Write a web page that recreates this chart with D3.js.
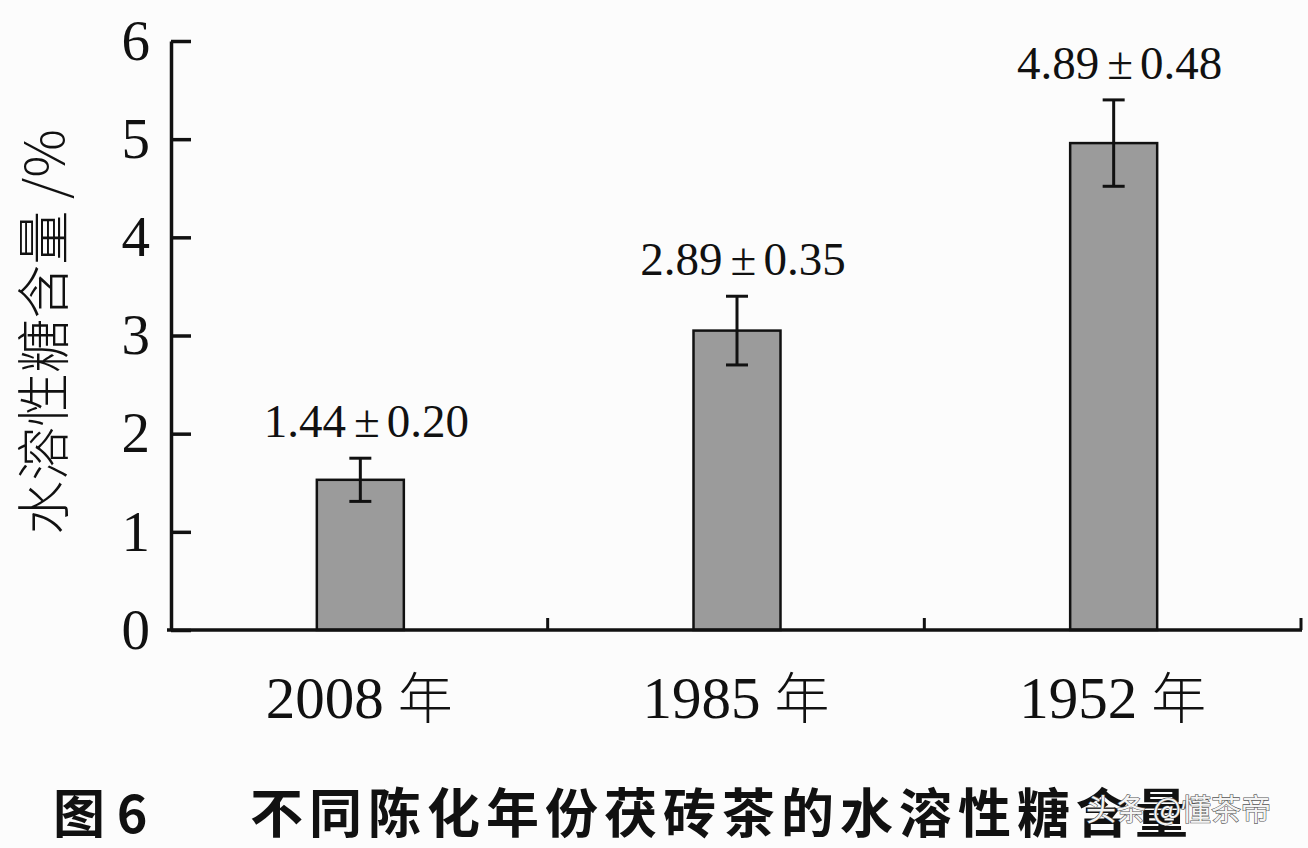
<!DOCTYPE html>
<html><head><meta charset="utf-8">
<script src="https://cdn.jsdelivr.net/npm/d3@7"></script>
<style>
html,body{margin:0;padding:0;background:#fcfcfc;}
svg{display:block;}
</style></head>
<body>
<svg id="chart" width="1308" height="848"></svg>
<script>
const categories = ["2008", "1985", "1952"];
const barValues = [1.53, 3.05, 4.96];
const errValues = [0.22, 0.35, 0.44];
const labelMeans = ["1.44", "2.89", "4.89"];
const labelSds = ["0.20", "0.35", "0.48"];
const yTicks = [0, 1, 2, 3, 4, 5, 6];
const yTitle = "水溶性糖含量 /%";
const caption1 = "图 6";
const caption2 = "不同陈化年份茯砖茶的水溶性糖含量";
const watermark = "头条 @懂茶帝";

const svg = d3.select("#chart");
const serif = "'Liberation Serif','Times New Roman',serif";
const cjk = "'Noto Sans CJK SC','Noto Sans CJK JP',sans-serif";

const x = d3.scaleBand().domain(categories).range([171, 1301]).paddingInner(0).paddingOuter(0);
const y = d3.scaleLinear().domain([0, 6]).range([630, 41]);
const barW = 87;

svg.append("rect").attr("width",1308).attr("height",848).attr("fill","#fcfcfc");

// bars
svg.selectAll("rect.bar").data(categories).enter().append("rect")
  .attr("class","bar")
  .attr("x", d => x(d) + x.bandwidth()/2 - barW/2 + 1)
  .attr("width", barW)
  .attr("y", (d,i) => y(barValues[i]))
  .attr("height", (d,i) => y(0) - y(barValues[i]))
  .attr("fill", "#9b9b9b")
  .attr("stroke", "#111")
  .attr("stroke-width", 2.5);

// error bars
const eg = svg.append("g").attr("stroke","#111").attr("stroke-width",3);
categories.forEach((c,i) => {
  const cx = x(c) + x.bandwidth()/2 + 1;
  const t = y(barValues[i] + errValues[i]), b = y(barValues[i] - errValues[i]);
  eg.append("line").attr("x1",cx).attr("x2",cx).attr("y1",t).attr("y2",b);
  eg.append("line").attr("x1",cx-11).attr("x2",cx+11).attr("y1",t).attr("y2",t);
  eg.append("line").attr("x1",cx-11).attr("x2",cx+11).attr("y1",b).attr("y2",b);
});

// value labels
categories.forEach((c,i) => {
  const cx = x(c) + x.bandwidth()/2 + 7;
  const t = svg.append("text")
    .attr("x", cx).attr("y", y(barValues[i] + errValues[i]) - 21)
    .attr("text-anchor","middle")
    .attr("font-family", serif).attr("font-size", 47).attr("fill","#111");
  t.append("tspan").text(labelMeans[i]);
  t.append("tspan").attr("dx", 8).text("±");
  t.append("tspan").attr("dx", 7).text(labelSds[i]);
});

// y axis
const yAxis = d3.axisLeft(y).tickValues(yTicks).tickFormat(d3.format("d"))
  .tickSizeInner(-20).tickSizeOuter(0).tickPadding(21);
const gy = svg.append("g").attr("transform","translate(171,0)").call(yAxis);
gy.select(".domain").attr("stroke","#111").attr("stroke-width",3.5);
gy.selectAll(".tick line").attr("stroke","#111").attr("stroke-width",3.5);
gy.selectAll(".tick text").attr("font-family", serif).attr("font-size", 57).attr("fill","#111");

// x axis
svg.append("line").attr("x1",167).attr("x2",1302).attr("y1",y(0)).attr("y2",y(0))
  .attr("stroke","#111").attr("stroke-width",3.5);
const bounds = categories.slice(1).map(c => x(c)).concat([x.range()[1]]);
svg.selectAll("line.xt").data(bounds).enter().append("line")
  .attr("class","xt")
  .attr("x1", d => d).attr("x2", d => d)
  .attr("y1", y(0)).attr("y2", y(0) - 12)
  .attr("stroke","#111").attr("stroke-width",3);

// x labels
categories.forEach(c => {
  const t = svg.append("text")
    .attr("x", x(c) + x.bandwidth()/2).attr("y", 718)
    .attr("text-anchor","middle").attr("fill","#111");
  t.append("tspan").attr("font-family", serif).attr("font-size", 59).text(c);
  t.append("tspan").attr("dx", 14).attr("font-family", cjk).attr("font-size", 55).attr("font-weight", 300).text("年");
});

// y title
svg.append("text")
  .attr("transform","translate(64,332) rotate(-90)")
  .attr("text-anchor","middle")
  .attr("font-family", cjk).attr("font-size", 54).attr("font-weight", 300).attr("fill","#111")
  .text(yTitle);

// caption
svg.append("text").attr("x", 53).attr("y", 833)
  .attr("font-family", cjk).attr("font-size", 52).attr("font-weight", 700).attr("fill","#111")
  .text(caption1);
svg.append("text").attr("x", 250).attr("y", 833)
  .attr("font-family", cjk).attr("font-size", 53).attr("font-weight", 700)
  .attr("letter-spacing", 6).attr("fill","#111")
  .text(caption2);

// watermark
svg.append("text").attr("x", 1086).attr("y", 820)
  .attr("font-family", cjk).attr("font-size", 30).attr("fill","#f4f4f4")
  .attr("stroke","#555").attr("stroke-width",1.2).attr("paint-order","stroke")
  .text(watermark);
</script>
</body></html>
